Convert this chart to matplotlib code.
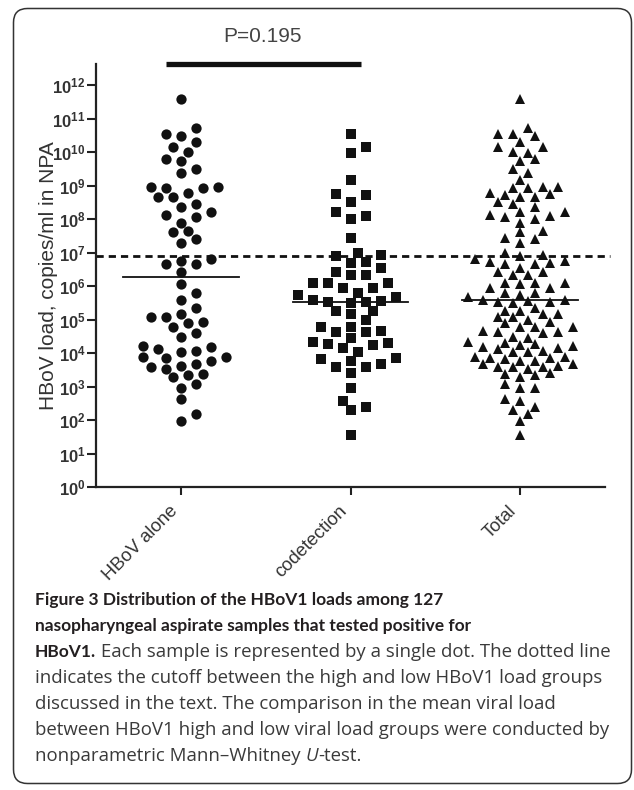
import numpy as np
import matplotlib
matplotlib.use('Agg')
import matplotlib.pyplot as plt
import matplotlib.transforms as mtransforms
from matplotlib.patches import FancyBboxPatch

# log10 of HBoV1 load (copies/ml in NPA)
hbov_alone_log = [11.58, 10.71, 10.54, 10.48, 10.31, 10.14, 10.01, 9.80, 9.72, 9.50,
                  9.39, 8.92, 8.92, 8.95, 8.95, 8.79, 8.67, 8.65, 8.45, 8.37,
                  8.20, 8.12, 8.05, 7.89, 7.64, 7.60, 7.39, 7.29, 6.76, 6.80,
                  6.66, 6.66, 6.43, 6.06, 5.78, 5.58, 5.35, 5.16, 5.07, 4.77,
                  4.93, 5.07, 4.89, 4.49, 4.59, 4.18, 4.21, 4.07, 3.89, 3.86,
                  3.77, 3.87, 4.04, 4.11, 3.67, 3.57, 3.52, 3.62, 3.36, 3.27,
                  3.34, 3.07, 2.96, 2.63, 1.97, 2.17]
codetection_log = [10.54, 9.98, 10.14, 9.16, 8.75, 8.72, 8.52, 8.09, 8.22, 8.00,
                   7.42, 6.93, 6.90, 6.98, 6.70, 6.73, 6.43, 6.33, 6.33, 6.53,
                   6.10, 6.08, 5.93, 5.93, 6.08, 5.73, 5.68, 5.78, 5.55, 5.51,
                   5.58, 5.49, 5.51, 5.25, 5.16, 5.25, 4.99, 4.79, 4.64, 4.62,
                   4.66, 4.79, 4.46, 4.29, 4.24, 4.02, 4.16, 4.26, 4.32, 3.82,
                   3.66, 3.57, 3.39, 3.59, 3.77, 3.84, 2.95, 2.38, 2.30, 2.57,
                   1.55]
groups = ['HBoV alone', 'codetection', 'Total']
markers = ['o', 's', '^']
marker_sizes = [7.4, 6.6, 7.6]
cutoff = 8e6
p_label = 'P=0.195'

caption = [
    [('Figure 3 Distribution of the HBoV1 loads among 127', 'bold')],
    [('nasopharyngeal aspirate samples that tested positive for', 'bold')],
    [('HBoV1.', 'bold'), (' Each sample is represented by a single dot. The dotted line', 'normal')],
    [('indicates the cutoff between the high and low HBoV1 load groups', 'normal')],
    [('discussed in the text. The comparison in the mean viral load', 'normal')],
    [('between HBoV1 high and low viral load groups were conducted by', 'normal')],
    [('nonparametric Mann\u2013Whitney ', 'normal'), ('U', 'italic'), ('-test.', 'normal')],
]

values = [10 ** np.array(hbov_alone_log), 10 ** np.array(codetection_log)]
values.append(np.concatenate(values))

plt.rcParams['font.family'] = ['Liberation Sans', 'DejaVu Sans']

W, H = 634, 790
fig = plt.figure(figsize=(W / 100, H / 100), dpi=100)
ax = fig.add_axes([96 / W, 1 - 487 / H, 509 / W, 423 / H])
ax.set_yscale('log')
ax.set_xlim(-0.5, 2.5)
ax.set_ylim(1, 10 ** 12.63)

for s in ['top', 'right']:
    ax.spines[s].set_visible(False)
for s in ['left', 'bottom']:
    ax.spines[s].set_linewidth(1.6)
    ax.spines[s].set_color('#222222')

ax.set_yticks([10.0 ** k for k in range(13)])
ax.set_yticklabels([r'$\mathregular{10^{%d}}$' % k for k in range(13)])
ax.yaxis.set_minor_locator(matplotlib.ticker.NullLocator())
ax.tick_params(axis='y', length=6.5, width=1.5, pad=1, labelsize=12,
               labelcolor='#333333', color='#222222')
for lab in ax.get_yticklabels():
    lab.set_fontweight('bold')
ax.set_xticks(range(3))
ax.set_xticklabels(groups, rotation=45, ha='right', va='top',
                   rotation_mode='default', fontsize=13.2, color='#333333')
shift = mtransforms.ScaledTranslation(0.06, 0.03, fig.dpi_scale_trans)
for lab in ax.get_xticklabels():
    lab.set_transform(lab.get_transform() + shift)
ax.tick_params(axis='x', length=6, width=1.5, pad=5, color='#222222')
ax.set_ylabel('HBoV load, copies/ml in NPA', fontsize=15, color='#333333', labelpad=-4)

fig.canvas.draw()
px_per_unit = ax.transData.transform((1, 1))[0] - ax.transData.transform((0, 1))[0]


def swarm(vals, diam, step=7.5):
    # beeswarm in pixel space on a grid of half lanes, offsets in x data units
    ypix = ax.transData.transform(np.column_stack([np.zeros(len(vals)), vals]))[:, 1]
    order = np.argsort(ypix)
    placed = []
    offs = np.zeros(len(vals))
    steps = [0.0]
    for k in range(1, 20):
        steps += [-k * step, k * step]
    for i in order:
        left = sum(1 for o, _ in placed if o < 0)
        right = sum(1 for o, _ in placed if o > 0)
        cands = sorted(steps, key=lambda o: (abs(o), (o > 0) if left > right else (o < 0)))
        for o in cands:
            if all((o - po) ** 2 + (ypix[i] - py) ** 2 >= diam ** 2 for po, py in placed):
                break
        placed.append((o, ypix[i]))
        offs[i] = o / px_per_unit
    return offs


swarm_diam = [11.0, 11.0, 9.5]
for i, v in enumerate(values):
    offs = swarm(v, swarm_diam[i])
    ax.plot(i + offs, v, linestyle='none', marker=markers[i], markersize=marker_sizes[i],
            color='#111111', markeredgewidth=0, zorder=3)
    med = np.median(v)
    ax.plot([i - 0.34, i + 0.34], [med, med], color='#111111', lw=1.3, zorder=4)

# cutoff between high and low load groups
ax.plot([-0.5, 2.53], [cutoff, cutoff], color='#111111', lw=2.0,
        linestyle=(0, (2.6, 1.8)), clip_on=False, zorder=2)

# significance bar
ax.plot([-0.09, 1.06], [10 ** 12.62, 10 ** 12.62], color='#111111', lw=3.8,
        solid_capstyle='butt', clip_on=False)
ax.text(0.48, 10 ** 13.45, p_label, ha='center', va='center', fontsize=15,
        color='#444444', clip_on=False)

# overlay in pixel units for frame and caption
ov = fig.add_axes([0, 0, 1, 1], zorder=5)
ov.set_xlim(0, W)
ov.set_ylim(H, 0)
ov.axis('off')
ov.patch.set_alpha(0)
ov.add_patch(FancyBboxPatch((13.5, 8.5), 618, 775, boxstyle='round,pad=0,rounding_size=14',
                            fill=False, edgecolor='#333333', lw=1.1, clip_on=False))

rend = fig.canvas.get_renderer()
line_y = [600, 626, 652, 678, 704, 730, 756]
for y, parts in zip(line_y, caption):
    x = 35
    for txt, style in parts:
        if style == 'bold':
            kw = dict(fontsize=12.5, fontweight='bold', color='#231f20',
                      family=['Lato', 'DejaVu Sans'])
        elif style == 'italic':
            kw = dict(fontsize=13.4, fontstyle='italic', color='#3a3a3a',
                      family=['Open Sans', 'DejaVu Sans'])
        else:
            kw = dict(fontsize=13.4, color='#3a3a3a', family=['Open Sans', 'DejaVu Sans'])
        t = ov.text(x, y, txt, va='center', ha='left', **kw)
        x += t.get_window_extent(rend).width

fig.savefig('out.png', dpi=100)
